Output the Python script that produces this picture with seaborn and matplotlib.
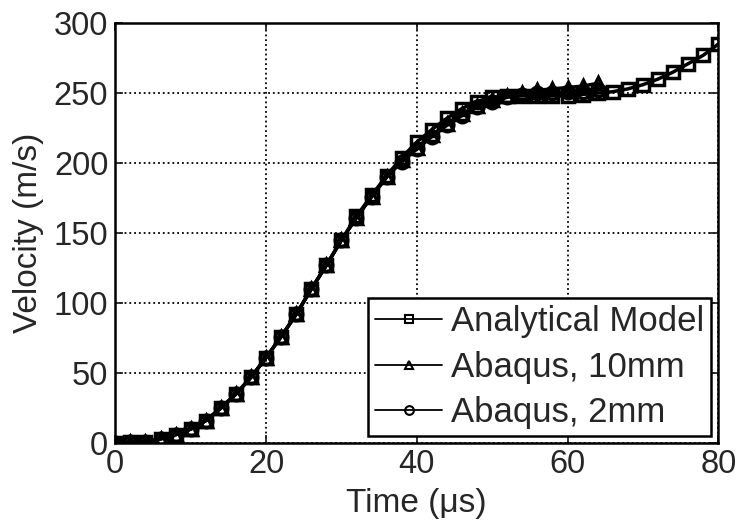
import numpy as np
import pandas as pd
import matplotlib
matplotlib.use("Agg")
import matplotlib.pyplot as plt
import seaborn as sns

# Datos (tiempo en µs, velocidad en m/s)
t_modelo = [0, 2, 4, 6, 8, 10, 12, 14, 16, 18, 20, 22, 24, 26, 28, 30, 32, 34, 36, 38,
            40, 42, 44, 46, 48, 50, 52, 54, 56, 58, 60, 62, 64, 66, 68, 70, 72, 74, 76, 78, 80]
v_modelo = [0, 0.5, 1, 3, 6, 10, 16, 25, 35, 47, 61, 76, 92, 110, 127, 145, 162, 177, 191, 204,
            215, 224, 232, 239, 244, 247, 248, 248, 248, 248, 248, 249, 250, 251, 253, 256, 260,
            265, 271, 277, 285]

t_abaqus = [0, 2, 4, 6, 8, 10, 12, 14, 16, 18, 20, 22, 24, 26, 28, 30, 32, 34, 36, 38,
            40, 42, 44, 46, 48, 50, 52, 54, 56, 58, 60, 62, 64]
v_10mm = [0, 0.5, 1, 3, 6, 10, 16, 25, 35, 47, 61, 76, 92, 110, 127, 145, 161, 176, 190, 202,
          211, 220, 228, 235, 241, 245, 248, 250, 252, 253, 254, 255, 257]
v_2mm = [0, 0.5, 1, 3, 6, 10, 16, 25, 35, 47, 61, 76, 92, 110, 127, 145, 161, 176, 190, 201,
         210, 219, 227, 234, 240, 244, 247, 249, 250, 250, 251, 251, 252]

series = [("Analytical Model", t_modelo, v_modelo, "s"),
          ("Abaqus, 10mm", t_abaqus, v_10mm, "^"),
          ("Abaqus, 2mm", t_abaqus, v_2mm, "o")]

sns.set_style("ticks")
plt.rcParams['font.family'] = ['Liberation Sans', 'DejaVu Sans']

fig = plt.figure(figsize=(7.39, 5.25), dpi=100)
ax = fig.add_axes([0.156, 0.156, 0.816, 0.80])

for nombre, t, v, m in series:
    df = pd.DataFrame({'t': t, 'v': v})
    sns.lineplot(data=df, x='t', y='v', ax=ax, color='black', linewidth=2.5,
                 marker=m, markersize=9, markerfacecolor='none',
                 markeredgecolor='black', markeredgewidth=2.5, label=nombre)

ax.set_xlim(0, 80)
ax.set_ylim(0, 300)
ax.set_xticks([0, 20, 40, 60, 80])
ax.set_yticks([0, 50, 100, 150, 200, 250, 300])
ax.grid(True, linestyle=':', color='black', linewidth=1.3)
ax.tick_params(direction='in', top=True, right=True, labelsize=23.5, length=6, width=1.3)
ax.tick_params(axis='x', pad=4)
ax.tick_params(axis='y', pad=5)
for s in ax.spines.values():
    s.set_linewidth(1.8)
    s.set_color('black')

ax.set_xlabel('Time (μs)', fontsize=24, labelpad=6)
ax.set_ylabel('Velocity (m/s)', fontsize=24, labelpad=7)

leg = ax.legend(loc='lower right', fontsize=25, frameon=True, fancybox=False,
                edgecolor='black', framealpha=1, handlelength=1.95, handletextpad=0.25,
                borderaxespad=0.2, labelspacing=0.36, markerscale=0.7,
                borderpad=0.2)
leg.get_frame().set_linewidth(1.8)
for h in leg.get_lines():
    h.set_linewidth(1.3)
    h.set_markeredgewidth(1.5)

fig.savefig('out.png', dpi=100)
